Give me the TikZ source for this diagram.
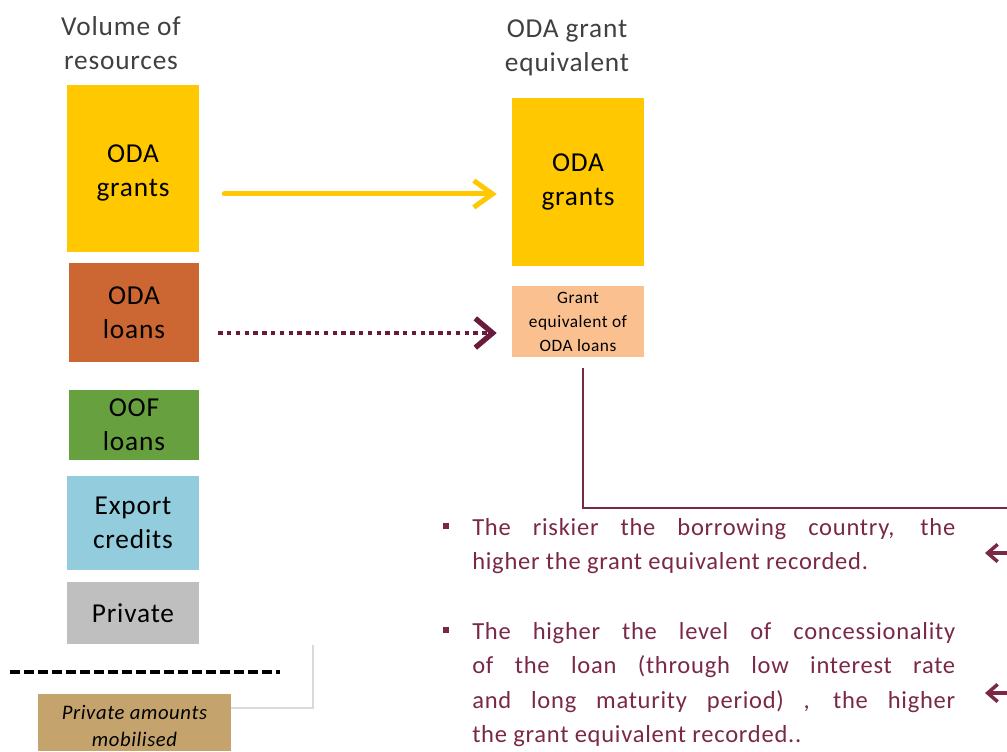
\documentclass[tikz,border=0pt]{standalone}
\usepackage{fontspec}
\setmainfont{Carlito}[LetterSpace=3]
\usetikzlibrary{arrows.meta,calc}
\definecolor{goldc}{HTML}{FFC800}
\definecolor{loanc}{HTML}{CC6633}
\definecolor{oofc}{HTML}{67A03F}
\definecolor{expc}{HTML}{93CDDD}
\definecolor{privc}{HTML}{BFBFBF}
\definecolor{geqc}{HTML}{FAC090}
\definecolor{mobc}{HTML}{C4A46C}
\definecolor{maroon}{HTML}{7A2848}
\definecolor{darkmaroon}{HTML}{6A1B3B}
\definecolor{titlec}{HTML}{404040}
\definecolor{thingray}{HTML}{D9D9D9}
\tikzset{
  box/.style={inner sep=0pt, align=center, font=\fontsize{20.5pt}{25.5pt}\selectfont, text=black},
  title/.style={inner sep=0pt, align=center, font=\fontsize{20.5pt}{26pt}\selectfont, text=titlec},
  yarr/.style={draw=goldc, line width=3.75pt, line cap=round, -{Straight Barb[length=14pt,width=20pt,line width=3.75pt]}},
  darr/.style={draw=darkmaroon, line width=3.2pt, dash pattern=on 3.2pt off 3.4pt, -{Straight Barb[length=13pt,width=22pt,line width=4pt]}},
  mline/.style={draw=maroon, line width=2.2pt},
  rarr/.style={draw=maroon, line width=2.6pt, -{Straight Barb[length=7.5pt,width=13pt,line width=2.6pt]}},
  bullettext/.style={inner sep=0pt, anchor=north west, text width=386.25pt, align=justify, text=maroon, font=\fontsize{18.4pt}{25.9pt}\selectfont},
}
\newcommand{\bsq}{\makebox[24pt][l]{\hspace{2pt}\raisebox{4.5pt}{\rule{4.5pt}{4.5pt}}}}
\newcommand{\lowered}[2]{\raisebox{-#1}[\height][\depth]{#2}}
\begin{document}
\begin{tikzpicture}[x=0.75pt,y=-0.75pt]
\useasboundingbox (0,0) rectangle (1007,751);
% titles
\node[title, anchor=north] (t1) at (121,16) {Volume of\\resources};
\node[title, anchor=north] (t2) at (567,19) {ODA grant\\equivalent};
% left column
\node[box, fill=goldc, minimum width=99pt, minimum height=125.25pt] (gl) at (133,168.5) {\lowered{3.5pt}{ODA}\\\lowered{3.5pt}{grants}};
\node[box, fill=loanc, minimum width=97.5pt, minimum height=74.25pt] (ll) at (134,312.5) {ODA\\loans};
\node[box, fill=oofc, minimum width=97.5pt, minimum height=52.5pt] (oof) at (134,425) {OOF\\loans};
\node[box, fill=expc, minimum width=99pt, minimum height=70.5pt] (exp) at (133,523) {Export\\credits};
\node[box, fill=privc, minimum width=99pt, minimum height=46.5pt] (prv) at (133,613) {Private};
\node[box, fill=mobc, minimum width=144.75pt, minimum height=42.75pt, font=\fontsize{15.5pt}{20pt}\selectfont\itshape] (mob) at (134.5,722.5) {\lowered{2.5pt}{Private amounts}\\\lowered{2.5pt}{mobilised}};
% right column
\node[box, fill=goldc, minimum width=99pt, minimum height=126pt] (gr) at (578,182) {ODA\\grants};
\node[box, fill=geqc, minimum width=99pt, minimum height=53.25pt, font=\fontsize{13pt}{18pt}\selectfont] (ge) at (578,321.5) {Grant\\equivalent of\\ODA loans};
% dashed separator
\coordinate (dsA) at (10,672);
\coordinate (dsB) at (280,672);
\draw[black, line width=2.3pt, dash pattern=on 7.5pt off 3pt] (dsA) -- (dsB);
% thin gray connector
\coordinate (gtop) at (313,645);
\draw[thingray, line width=1.5pt] (mob.east |- 0,708) -| (gtop);
% arrows
\draw[yarr, shorten <=18.75pt, shorten >=11.25pt] ([yshift=-19.1pt]gl.east) -- ([yshift=-19.1pt]gl.east -| gr.west);
\draw[darr, shorten <=14.25pt, shorten >=11.25pt] ([yshift=-15.4pt]ll.east) -- ([yshift=-15.4pt]ll.east -| ge.west);
% maroon connector
\coordinate (edgeA) at (1012,508);
\draw[mline, shorten <=8.25pt] ([xshift=3.75pt]ge.south) |- (edgeA);
% bullet texts
\node[bullettext] (b1) at (440,518) {\bsq The riskier the borrowing country, the\linebreak\hspace*{24pt}higher the grant equivalent recorded.};
\node[bullettext] (b2) at (440,622) {\bsq The higher the level of concessionality\linebreak\hspace*{24pt}of the loan (through low interest rate\linebreak\hspace*{24pt}and long maturity period) , the higher\linebreak\hspace*{24pt}the grant equivalent recorded..};
% right side arrows
\coordinate (r1s) at (1012,553);
\coordinate (r1e) at (985,553);
\coordinate (r2s) at (1012,693);
\coordinate (r2e) at (985,693);
\draw[rarr] (r1s) -- (r1e);
\draw[rarr] (r2s) -- (r2e);
\end{tikzpicture}
\end{document}
